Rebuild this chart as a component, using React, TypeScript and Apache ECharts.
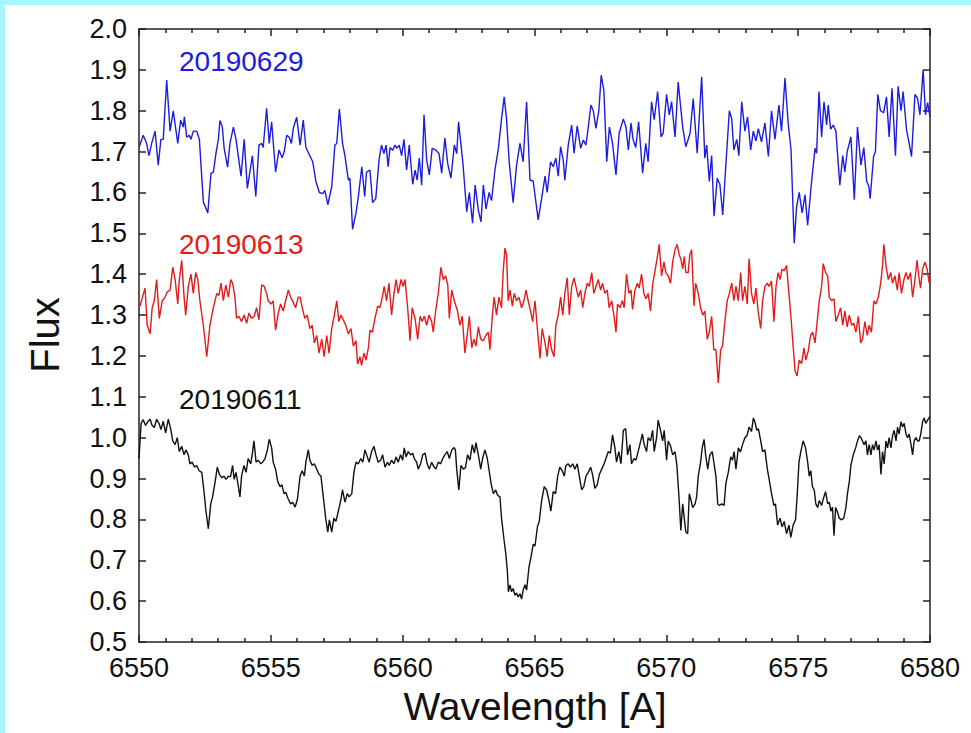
import React, { useEffect, useRef } from "react";
import * as echarts from "echarts";

// Wavelength axis ticks (Angstrom) and flux axis range
const xTicks = [6550, 6555, 6560, 6565, 6570, 6575, 6580];
const yRange = [0.5, 2.0];

const seriesNames = ["20190629", "20190613", "20190611"];
const seriesColors = ["#1c1ce0", "#e31b1b", "#111111"];

// [wavelength, flux]
const spectrum20190629: [number, number][] = [
  [6550.01, 1.712], [6550.16, 1.74], [6550.29, 1.72], [6550.38, 1.69], [6550.48, 1.72], [6550.61, 1.75],
  [6550.73, 1.667], [6550.83, 1.73], [6550.92, 1.73], [6551.05, 1.875], [6551.18, 1.75], [6551.30, 1.80],
  [6551.47, 1.72], [6551.58, 1.777], [6551.68, 1.76], [6551.72, 1.785], [6551.81, 1.735], [6551.91, 1.74],
  [6551.97, 1.73], [6552.06, 1.75], [6552.19, 1.75], [6552.29, 1.73], [6552.44, 1.577], [6552.61, 1.55],
  [6552.73, 1.647], [6552.82, 1.65], [6552.92, 1.696], [6553.01, 1.73], [6553.07, 1.776], [6553.16, 1.76],
  [6553.23, 1.708], [6553.36, 1.662], [6553.45, 1.72], [6553.58, 1.76], [6553.68, 1.73], [6553.87, 1.64],
  [6553.99, 1.73], [6554.11, 1.61], [6554.30, 1.69], [6554.43, 1.59], [6554.55, 1.716], [6554.65, 1.72],
  [6554.71, 1.71], [6554.84, 1.806], [6554.94, 1.72], [6555.03, 1.773], [6555.18, 1.65], [6555.31, 1.704],
  [6555.43, 1.685], [6555.51, 1.70], [6555.60, 1.74], [6555.70, 1.735], [6555.78, 1.72], [6555.85, 1.757],
  [6555.98, 1.784], [6556.11, 1.716], [6556.23, 1.777], [6556.33, 1.71], [6556.48, 1.69], [6556.59, 1.675],
  [6556.71, 1.627], [6556.84, 1.60], [6556.97, 1.597], [6557.05, 1.605], [6557.16, 1.57], [6557.31, 1.614],
  [6557.43, 1.716], [6557.50, 1.72], [6557.60, 1.804], [6557.72, 1.72], [6557.81, 1.69], [6557.94, 1.63],
  [6558.00, 1.635], [6558.10, 1.51], [6558.23, 1.55], [6558.32, 1.59], [6558.45, 1.663], [6558.56, 1.59],
  [6558.63, 1.65], [6558.76, 1.655], [6558.86, 1.575], [6558.98, 1.585], [6559.11, 1.683], [6559.20, 1.716],
  [6559.29, 1.695], [6559.37, 1.716], [6559.45, 1.663], [6559.52, 1.71], [6559.62, 1.703], [6559.71, 1.716],
  [6559.78, 1.708], [6559.87, 1.716], [6559.96, 1.69], [6560.05, 1.73], [6560.15, 1.655], [6560.25, 1.716],
  [6560.38, 1.62], [6560.47, 1.655], [6560.55, 1.63], [6560.63, 1.684], [6560.72, 1.618], [6560.81, 1.79],
  [6560.91, 1.68], [6561.01, 1.643], [6561.12, 1.708], [6561.25, 1.704], [6561.38, 1.695], [6561.48, 1.647],
  [6561.60, 1.733], [6561.71, 1.67], [6561.83, 1.635], [6561.96, 1.716], [6562.05, 1.695], [6562.12, 1.773],
  [6562.28, 1.675], [6562.43, 1.553], [6562.53, 1.60], [6562.65, 1.525], [6562.75, 1.618], [6562.87, 1.557],
  [6562.97, 1.528], [6563.06, 1.618], [6563.16, 1.56], [6563.28, 1.60], [6563.37, 1.58], [6563.50, 1.655],
  [6563.63, 1.708], [6563.75, 1.78], [6563.85, 1.834], [6563.94, 1.78], [6564.04, 1.675], [6564.19, 1.575],
  [6564.32, 1.667], [6564.45, 1.72], [6564.57, 1.675], [6564.70, 1.822], [6564.83, 1.63], [6564.95, 1.628],
  [6565.14, 1.533], [6565.27, 1.585], [6565.40, 1.64], [6565.48, 1.60], [6565.61, 1.675], [6565.71, 1.663],
  [6565.81, 1.684], [6565.90, 1.64], [6565.99, 1.712], [6566.09, 1.68], [6566.15, 1.63], [6566.28, 1.716],
  [6566.41, 1.765], [6566.50, 1.696], [6566.62, 1.763], [6566.75, 1.708], [6566.85, 1.728], [6566.95, 1.716],
  [6567.04, 1.76], [6567.14, 1.814], [6567.23, 1.80], [6567.33, 1.757], [6567.44, 1.80], [6567.53, 1.887],
  [6567.63, 1.85], [6567.74, 1.675], [6567.84, 1.76], [6567.96, 1.72], [6568.09, 1.643], [6568.21, 1.745],
  [6568.37, 1.78], [6568.47, 1.76], [6568.56, 1.704], [6568.66, 1.77], [6568.74, 1.73], [6568.84, 1.71],
  [6568.95, 1.773], [6569.10, 1.647], [6569.22, 1.72], [6569.31, 1.675], [6569.44, 1.822], [6569.54, 1.778],
  [6569.67, 1.847], [6569.80, 1.736], [6569.88, 1.745], [6570.01, 1.84], [6570.11, 1.79], [6570.20, 1.822],
  [6570.33, 1.736], [6570.45, 1.87], [6570.62, 1.76], [6570.74, 1.712], [6570.90, 1.745], [6571.02, 1.83],
  [6571.17, 1.696], [6571.34, 1.883], [6571.46, 1.684], [6571.53, 1.716], [6571.63, 1.627], [6571.72, 1.69],
  [6571.81, 1.542], [6571.93, 1.635], [6572.03, 1.62], [6572.14, 1.545], [6572.26, 1.67], [6572.39, 1.80],
  [6572.48, 1.78], [6572.56, 1.704], [6572.67, 1.73], [6572.75, 1.69], [6572.86, 1.822], [6572.98, 1.75],
  [6573.08, 1.785], [6573.20, 1.704], [6573.30, 1.75], [6573.40, 1.726], [6573.49, 1.756], [6573.61, 1.724],
  [6573.74, 1.77], [6573.87, 1.688], [6573.99, 1.80], [6574.12, 1.73], [6574.27, 1.814], [6574.37, 1.75],
  [6574.50, 1.88], [6574.62, 1.77], [6574.73, 1.704], [6574.85, 1.476], [6574.94, 1.565], [6575.04, 1.60],
  [6575.15, 1.55], [6575.26, 1.594], [6575.36, 1.52], [6575.51, 1.627], [6575.64, 1.708], [6575.70, 1.696],
  [6575.79, 1.847], [6575.89, 1.736], [6575.98, 1.822], [6576.08, 1.765], [6576.14, 1.814], [6576.23, 1.755],
  [6576.33, 1.765], [6576.43, 1.75], [6576.58, 1.618], [6576.69, 1.69], [6576.77, 1.65], [6576.86, 1.70],
  [6577.00, 1.736], [6577.13, 1.582], [6577.25, 1.76], [6577.38, 1.667], [6577.49, 1.71], [6577.60, 1.627],
  [6577.68, 1.615], [6577.73, 1.585], [6577.86, 1.688], [6577.93, 1.70], [6578.02, 1.84], [6578.12, 1.80],
  [6578.24, 1.795], [6578.35, 1.834], [6578.45, 1.736], [6578.56, 1.855], [6578.69, 1.69], [6578.79, 1.86],
  [6578.90, 1.80], [6578.98, 1.847], [6579.11, 1.753], [6579.21, 1.72], [6579.30, 1.688], [6579.43, 1.84],
  [6579.53, 1.83], [6579.62, 1.79], [6579.74, 1.90], [6579.83, 1.79], [6579.91, 1.82], [6580.00, 1.785],
];

const spectrum20190613: [number, number][] = [
  [6550.00, 1.33], [6550.04, 1.322], [6550.13, 1.344], [6550.23, 1.366], [6550.31, 1.275], [6550.42, 1.254],
  [6550.50, 1.318], [6550.58, 1.335], [6550.67, 1.387], [6550.77, 1.292], [6550.88, 1.335], [6550.99, 1.344],
  [6551.07, 1.357], [6551.18, 1.361], [6551.28, 1.417], [6551.37, 1.387], [6551.47, 1.327], [6551.53, 1.387],
  [6551.62, 1.434], [6551.71, 1.344], [6551.77, 1.30], [6551.87, 1.37], [6551.97, 1.40], [6552.06, 1.353],
  [6552.15, 1.404], [6552.23, 1.387], [6552.31, 1.335], [6552.44, 1.275], [6552.57, 1.198], [6552.69, 1.275],
  [6552.82, 1.318], [6552.95, 1.353], [6553.03, 1.348], [6553.11, 1.378], [6553.20, 1.335], [6553.29, 1.374],
  [6553.39, 1.344], [6553.48, 1.387], [6553.55, 1.378], [6553.64, 1.344], [6553.70, 1.292], [6553.79, 1.297],
  [6553.89, 1.284], [6553.99, 1.30], [6554.08, 1.28], [6554.17, 1.305], [6554.27, 1.292], [6554.37, 1.297],
  [6554.46, 1.318], [6554.55, 1.288], [6554.65, 1.374], [6554.75, 1.37], [6554.84, 1.353], [6554.90, 1.335],
  [6555.01, 1.327], [6555.09, 1.335], [6555.18, 1.263], [6555.28, 1.305], [6555.37, 1.327], [6555.47, 1.31],
  [6555.56, 1.335], [6555.66, 1.361], [6555.75, 1.344], [6555.85, 1.331], [6555.94, 1.318], [6556.04, 1.344],
  [6556.11, 1.344], [6556.19, 1.318], [6556.29, 1.292], [6556.38, 1.30], [6556.48, 1.267], [6556.57, 1.275],
  [6556.65, 1.232], [6556.74, 1.25], [6556.83, 1.207], [6556.93, 1.241], [6557.02, 1.198], [6557.12, 1.25],
  [6557.21, 1.207], [6557.31, 1.267], [6557.41, 1.30], [6557.50, 1.335], [6557.58, 1.284], [6557.66, 1.30],
  [6557.75, 1.288], [6557.84, 1.275], [6557.94, 1.254], [6558.04, 1.267], [6558.13, 1.224], [6558.23, 1.237],
  [6558.29, 1.18], [6558.38, 1.198], [6558.44, 1.177], [6558.53, 1.207], [6558.61, 1.19], [6558.70, 1.22],
  [6558.76, 1.263], [6558.85, 1.258], [6558.95, 1.292], [6559.05, 1.322], [6559.14, 1.318], [6559.23, 1.344],
  [6559.30, 1.37], [6559.39, 1.335], [6559.48, 1.378], [6559.58, 1.30], [6559.67, 1.353], [6559.75, 1.387],
  [6559.83, 1.353], [6559.94, 1.387], [6560.02, 1.37], [6560.09, 1.387], [6560.19, 1.318], [6560.28, 1.237],
  [6560.36, 1.318], [6560.47, 1.292], [6560.57, 1.241], [6560.66, 1.297], [6560.74, 1.284], [6560.82, 1.297],
  [6560.91, 1.275], [6561.00, 1.30], [6561.10, 1.284], [6561.16, 1.258], [6561.25, 1.31], [6561.35, 1.353],
  [6561.45, 1.417], [6561.54, 1.387], [6561.63, 1.396], [6561.71, 1.374], [6561.77, 1.292], [6561.86, 1.361],
  [6561.96, 1.335], [6562.08, 1.31], [6562.17, 1.275], [6562.26, 1.297], [6562.36, 1.207], [6562.46, 1.258],
  [6562.53, 1.297], [6562.62, 1.22], [6562.70, 1.241], [6562.78, 1.224], [6562.87, 1.271], [6562.96, 1.241],
  [6563.06, 1.237], [6563.15, 1.25], [6563.25, 1.258], [6563.31, 1.215], [6563.40, 1.297], [6563.47, 1.344],
  [6563.56, 1.30], [6563.65, 1.344], [6563.75, 1.318], [6563.81, 1.404], [6563.88, 1.464], [6563.94, 1.447],
  [6564.00, 1.335], [6564.07, 1.361], [6564.16, 1.322], [6564.23, 1.353], [6564.32, 1.335], [6564.41, 1.344],
  [6564.51, 1.318], [6564.60, 1.335], [6564.68, 1.361], [6564.76, 1.335], [6564.85, 1.31], [6564.93, 1.284],
  [6565.02, 1.335], [6565.12, 1.258], [6565.21, 1.194], [6565.29, 1.267], [6565.40, 1.232], [6565.48, 1.198],
  [6565.56, 1.25], [6565.65, 1.215], [6565.74, 1.198], [6565.81, 1.275], [6565.90, 1.30], [6565.99, 1.344],
  [6566.07, 1.30], [6566.15, 1.353], [6566.24, 1.391], [6566.32, 1.30], [6566.41, 1.37], [6566.50, 1.391],
  [6566.57, 1.37], [6566.66, 1.344], [6566.75, 1.361], [6566.83, 1.318], [6566.91, 1.353], [6567.00, 1.378],
  [6567.08, 1.37], [6567.17, 1.404], [6567.25, 1.353], [6567.33, 1.37], [6567.42, 1.387], [6567.51, 1.361],
  [6567.58, 1.378], [6567.67, 1.353], [6567.76, 1.361], [6567.83, 1.318], [6567.93, 1.335], [6568.01, 1.30],
  [6568.09, 1.258], [6568.15, 1.327], [6568.24, 1.318], [6568.33, 1.335], [6568.40, 1.318], [6568.49, 1.40],
  [6568.58, 1.353], [6568.66, 1.361], [6568.72, 1.314], [6568.81, 1.361], [6568.90, 1.378], [6568.97, 1.366],
  [6569.06, 1.40], [6569.15, 1.353], [6569.23, 1.34], [6569.31, 1.353], [6569.40, 1.31], [6569.48, 1.374],
  [6569.57, 1.408], [6569.65, 1.438], [6569.73, 1.473], [6569.82, 1.396], [6569.91, 1.43], [6569.98, 1.404],
  [6570.07, 1.396], [6570.16, 1.378], [6570.24, 1.43], [6570.33, 1.46], [6570.41, 1.473], [6570.49, 1.447],
  [6570.55, 1.438], [6570.62, 1.413], [6570.68, 1.443], [6570.74, 1.404], [6570.83, 1.404], [6570.89, 1.447],
  [6570.96, 1.46], [6571.05, 1.322], [6571.11, 1.378], [6571.21, 1.353], [6571.30, 1.318], [6571.38, 1.30],
  [6571.46, 1.31], [6571.55, 1.241], [6571.63, 1.258], [6571.72, 1.297], [6571.80, 1.215], [6571.88, 1.215],
  [6571.97, 1.134], [6572.06, 1.215], [6572.13, 1.224], [6572.22, 1.284], [6572.31, 1.335], [6572.39, 1.353],
  [6572.48, 1.378], [6572.56, 1.335], [6572.64, 1.37], [6572.73, 1.335], [6572.82, 1.404], [6572.89, 1.335],
  [6572.98, 1.37], [6573.07, 1.327], [6573.14, 1.438], [6573.23, 1.353], [6573.32, 1.327], [6573.40, 1.366],
  [6573.48, 1.31], [6573.58, 1.267], [6573.65, 1.335], [6573.74, 1.37], [6573.83, 1.378], [6573.90, 1.37],
  [6573.99, 1.383], [6574.08, 1.284], [6574.16, 1.37], [6574.24, 1.404], [6574.31, 1.387], [6574.39, 1.413],
  [6574.47, 1.408], [6574.56, 1.421], [6574.65, 1.353], [6574.72, 1.30], [6574.81, 1.224], [6574.88, 1.164],
  [6574.96, 1.151], [6575.04, 1.19], [6575.13, 1.181], [6575.22, 1.22], [6575.29, 1.19], [6575.38, 1.211],
  [6575.47, 1.25], [6575.55, 1.258], [6575.64, 1.232], [6575.72, 1.284], [6575.80, 1.335], [6575.89, 1.37],
  [6575.95, 1.426], [6576.04, 1.404], [6576.12, 1.396], [6576.18, 1.344], [6576.27, 1.335], [6576.36, 1.34],
  [6576.43, 1.284], [6576.52, 1.30], [6576.61, 1.318], [6576.69, 1.275], [6576.77, 1.31], [6576.86, 1.271],
  [6576.94, 1.30], [6577.03, 1.275], [6577.11, 1.28], [6577.19, 1.258], [6577.28, 1.297], [6577.37, 1.232],
  [6577.44, 1.241], [6577.53, 1.284], [6577.62, 1.25], [6577.69, 1.275], [6577.78, 1.258], [6577.87, 1.335],
  [6577.95, 1.327], [6578.04, 1.344], [6578.13, 1.378], [6578.20, 1.421], [6578.25, 1.473], [6578.33, 1.421],
  [6578.42, 1.387], [6578.51, 1.404], [6578.58, 1.378], [6578.67, 1.396], [6578.76, 1.361], [6578.83, 1.404],
  [6578.92, 1.353], [6579.01, 1.387], [6579.09, 1.404], [6579.17, 1.387], [6579.26, 1.404], [6579.34, 1.344],
  [6579.43, 1.387], [6579.51, 1.434], [6579.59, 1.387], [6579.64, 1.366], [6579.72, 1.413], [6579.81, 1.43],
  [6579.89, 1.413], [6579.97, 1.378], [6580.00, 1.39],
];

const spectrum20190611: [number, number][] = [
  [6550.00, 0.949], [6550.08, 1.035], [6550.16, 1.044], [6550.25, 1.03], [6550.33, 1.039], [6550.42, 1.045],
  [6550.50, 1.03], [6550.58, 1.025], [6550.67, 1.045], [6550.76, 1.035], [6550.83, 1.02], [6550.92, 1.04],
  [6551.01, 1.012], [6551.11, 1.045], [6551.20, 1.022], [6551.28, 0.992], [6551.37, 0.983], [6551.45, 1.0],
  [6551.53, 0.966], [6551.62, 0.979], [6551.71, 0.958], [6551.78, 0.97], [6551.87, 0.958], [6551.93, 0.936],
  [6552.02, 0.94], [6552.10, 0.928], [6552.19, 0.932], [6552.28, 0.919], [6552.38, 0.915], [6552.46, 0.872],
  [6552.54, 0.82], [6552.63, 0.777], [6552.72, 0.838], [6552.79, 0.855], [6552.88, 0.889], [6552.97, 0.928],
  [6553.05, 0.91], [6553.14, 0.902], [6553.22, 0.906], [6553.30, 0.898], [6553.39, 0.906], [6553.47, 0.904],
  [6553.55, 0.932], [6553.61, 0.898], [6553.68, 0.915], [6553.77, 0.88], [6553.83, 0.855], [6553.89, 0.906],
  [6553.98, 0.932], [6554.06, 0.915], [6554.14, 0.949], [6554.24, 0.936], [6554.31, 0.966], [6554.36, 0.992],
  [6554.44, 0.94], [6554.52, 0.945], [6554.62, 0.936], [6554.69, 0.94], [6554.78, 0.949], [6554.87, 0.97],
  [6554.94, 0.996], [6555.03, 0.975], [6555.09, 0.94], [6555.18, 0.923], [6555.26, 0.893], [6555.35, 0.88],
  [6555.42, 0.885], [6555.50, 0.863], [6555.57, 0.866], [6555.66, 0.85], [6555.75, 0.838], [6555.83, 0.842],
  [6555.92, 0.83], [6556.01, 0.85], [6556.11, 0.906], [6556.19, 0.919], [6556.27, 0.906], [6556.33, 0.94],
  [6556.42, 0.97], [6556.48, 0.945], [6556.57, 0.932], [6556.65, 0.936], [6556.74, 0.923], [6556.83, 0.91],
  [6556.90, 0.906], [6556.99, 0.855], [6557.08, 0.803], [6557.16, 0.769], [6557.22, 0.799], [6557.31, 0.769],
  [6557.39, 0.803], [6557.47, 0.795], [6557.56, 0.82], [6557.65, 0.846], [6557.72, 0.872], [6557.81, 0.842],
  [6557.90, 0.863], [6557.97, 0.855], [6558.07, 0.863], [6558.15, 0.915], [6558.23, 0.94], [6558.32, 0.936],
  [6558.41, 0.949], [6558.49, 0.94], [6558.57, 0.97], [6558.66, 0.953], [6558.73, 0.94], [6558.82, 0.966],
  [6558.91, 0.979], [6558.99, 0.958], [6559.07, 0.94], [6559.17, 0.945], [6559.24, 0.958], [6559.33, 0.928],
  [6559.42, 0.94], [6559.49, 0.932], [6559.58, 0.945], [6559.67, 0.936], [6559.75, 0.953], [6559.83, 0.94],
  [6559.92, 0.958], [6560.00, 0.945], [6560.06, 0.975], [6560.13, 0.953], [6560.21, 0.966], [6560.30, 0.958],
  [6560.38, 0.962], [6560.44, 0.949], [6560.53, 0.94], [6560.59, 0.923], [6560.68, 0.936], [6560.76, 0.958],
  [6560.85, 0.962], [6560.93, 0.936], [6561.01, 0.923], [6561.10, 0.94], [6561.19, 0.928], [6561.26, 0.923],
  [6561.35, 0.94], [6561.44, 0.936], [6561.52, 0.949], [6561.60, 0.958], [6561.69, 0.966], [6561.77, 0.949],
  [6561.86, 0.97], [6561.95, 0.976], [6562.00, 0.97], [6562.05, 0.923], [6562.13, 0.872], [6562.21, 0.932],
  [6562.30, 0.923], [6562.38, 0.926], [6562.46, 0.958], [6562.55, 0.945], [6562.64, 0.983], [6562.72, 0.962],
  [6562.78, 0.988], [6562.87, 0.958], [6562.96, 0.923], [6563.03, 0.949], [6563.12, 0.97], [6563.21, 0.949],
  [6563.28, 0.919], [6563.35, 0.889], [6563.44, 0.863], [6563.53, 0.872], [6563.60, 0.859], [6563.69, 0.855],
  [6563.75, 0.803], [6563.84, 0.752], [6563.91, 0.717], [6563.97, 0.674], [6564.01, 0.623], [6564.07, 0.64],
  [6564.13, 0.623], [6564.19, 0.631], [6564.26, 0.614], [6564.32, 0.62], [6564.38, 0.61], [6564.45, 0.618],
  [6564.51, 0.605], [6564.57, 0.627], [6564.64, 0.64], [6564.70, 0.627], [6564.79, 0.683], [6564.87, 0.709],
  [6564.95, 0.739], [6565.02, 0.735], [6565.11, 0.782], [6565.18, 0.795], [6565.27, 0.846], [6565.37, 0.88],
  [6565.46, 0.872], [6565.55, 0.846], [6565.62, 0.82], [6565.71, 0.868], [6565.80, 0.863], [6565.88, 0.906],
  [6565.96, 0.928], [6566.05, 0.919], [6566.13, 0.906], [6566.19, 0.932], [6566.28, 0.936], [6566.36, 0.928],
  [6566.45, 0.936], [6566.53, 0.923], [6566.62, 0.936], [6566.70, 0.906], [6566.79, 0.872], [6566.87, 0.88],
  [6566.95, 0.906], [6567.04, 0.915], [6567.13, 0.928], [6567.20, 0.91], [6567.29, 0.876], [6567.38, 0.885],
  [6567.46, 0.91], [6567.55, 0.923], [6567.64, 0.936], [6567.71, 0.949], [6567.80, 0.966], [6567.88, 0.962],
  [6567.96, 1.007], [6568.05, 0.975], [6568.11, 0.94], [6568.20, 0.966], [6568.28, 0.936], [6568.37, 1.018],
  [6568.46, 1.022], [6568.53, 0.958], [6568.62, 0.983], [6568.68, 0.936], [6568.77, 0.949], [6568.85, 0.945],
  [6568.93, 0.966], [6569.03, 0.992], [6569.09, 1.009], [6569.16, 0.983], [6569.25, 0.966], [6569.31, 1.0],
  [6569.40, 0.992], [6569.48, 1.018], [6569.54, 0.966], [6569.63, 1.0], [6569.69, 1.043], [6569.78, 1.018],
  [6569.86, 0.992], [6569.92, 1.018], [6570.01, 0.945], [6570.07, 0.992], [6570.16, 0.98], [6570.24, 0.958],
  [6570.33, 0.966], [6570.40, 0.932], [6570.48, 0.855], [6570.55, 0.773], [6570.62, 0.838], [6570.68, 0.803],
  [6570.74, 0.769], [6570.81, 0.765], [6570.87, 0.863], [6570.94, 0.846], [6571.00, 0.829], [6571.09, 0.838],
  [6571.15, 0.855], [6571.21, 0.906], [6571.30, 0.94], [6571.36, 0.975], [6571.43, 0.996], [6571.49, 0.958],
  [6571.57, 0.923], [6571.65, 0.958], [6571.74, 0.966], [6571.82, 0.932], [6571.88, 0.906], [6571.95, 0.838],
  [6572.01, 0.834], [6572.10, 0.838], [6572.19, 0.834], [6572.26, 0.889], [6572.35, 0.915], [6572.44, 0.953],
  [6572.51, 0.945], [6572.57, 0.966], [6572.64, 0.923], [6572.73, 0.975], [6572.81, 0.965], [6572.89, 0.983],
  [6572.98, 1.0], [6573.06, 1.005], [6573.14, 1.026], [6573.23, 1.015], [6573.30, 1.048], [6573.36, 1.039],
  [6573.43, 1.018], [6573.49, 1.022], [6573.58, 0.992], [6573.65, 0.966], [6573.74, 0.97], [6573.83, 0.923],
  [6573.90, 0.898], [6573.99, 0.863], [6574.08, 0.834], [6574.14, 0.838], [6574.22, 0.786], [6574.31, 0.803],
  [6574.39, 0.782], [6574.47, 0.795], [6574.56, 0.765], [6574.65, 0.786], [6574.72, 0.756], [6574.81, 0.786],
  [6574.90, 0.799], [6574.96, 0.855], [6575.03, 0.94], [6575.10, 0.966], [6575.19, 0.992], [6575.28, 0.975],
  [6575.36, 0.94], [6575.42, 0.906], [6575.48, 0.919], [6575.54, 0.88], [6575.61, 0.872], [6575.67, 0.838],
  [6575.74, 0.829], [6575.80, 0.846], [6575.89, 0.834], [6575.95, 0.85], [6576.04, 0.868], [6576.12, 0.838],
  [6576.18, 0.842], [6576.24, 0.82], [6576.30, 0.83], [6576.36, 0.76], [6576.42, 0.829], [6576.48, 0.82],
  [6576.56, 0.803], [6576.65, 0.799], [6576.73, 0.803], [6576.81, 0.829], [6576.87, 0.863], [6576.94, 0.893],
  [6577.00, 0.932], [6577.09, 0.958], [6577.18, 0.975], [6577.25, 0.992], [6577.32, 1.005], [6577.38, 1.0],
  [6577.44, 0.992], [6577.50, 0.983], [6577.57, 0.992], [6577.63, 0.958], [6577.69, 0.983], [6577.76, 0.958],
  [6577.82, 0.983], [6577.88, 0.97], [6577.95, 0.992], [6578.01, 0.97], [6578.07, 0.983], [6578.14, 0.91],
  [6578.20, 0.966], [6578.26, 0.936], [6578.33, 0.992], [6578.39, 0.975], [6578.45, 1.0], [6578.52, 0.975],
  [6578.58, 1.005], [6578.64, 1.018], [6578.71, 0.992], [6578.77, 1.026], [6578.83, 1.009], [6578.90, 1.039],
  [6578.96, 1.026], [6579.02, 1.035], [6579.09, 1.009], [6579.15, 1.0], [6579.21, 1.009], [6579.28, 0.983],
  [6579.34, 0.958], [6579.40, 0.992], [6579.47, 1.0], [6579.53, 0.992], [6579.59, 0.992], [6579.65, 1.009],
  [6579.72, 1.039], [6579.78, 1.048], [6579.84, 1.035], [6579.91, 1.043], [6580.00, 1.052],
];

const spectra = [spectrum20190629, spectrum20190613, spectrum20190611];

export default function App() {
  const ref = useRef<HTMLDivElement>(null);

  useEffect(() => {
    if (!ref.current) return;
    const chart = echarts.init(ref.current, null, { renderer: "svg" });
    const font = '"Liberation Sans", Arial, Helvetica, sans-serif';
    const axisColor = "#222";
    const lineStyle = { color: axisColor, width: 1.5 };

    const xBase = {
      type: "value",
      min: xTicks[0],
      max: xTicks[xTicks.length - 1],
      interval: xTicks[1] - xTicks[0],
      axisLine: { show: true, onZero: false, lineStyle },
      axisTick: { show: true, inside: true, length: 7, lineStyle },
      minorTick: { show: true, splitNumber: 5, length: 4, lineStyle },
      splitLine: { show: false },
    };
    const yBase = {
      type: "value",
      min: yRange[0],
      max: yRange[1],
      interval: 0.1,
      axisLine: { show: true, onZero: false, lineStyle },
      axisTick: { show: true, inside: true, length: 7, lineStyle },
      splitLine: { show: false },
    };

    chart.setOption({
      animation: false,
      backgroundColor: "#ffffff",
      grid: { left: 139, right: 41, top: 29, bottom: 91, containLabel: false },
      xAxis: [
        {
          ...xBase,
          position: "bottom",
          axisLabel: {
            show: true,
            fontSize: 27,
            lineHeight: 20,
            color: "#111",
            fontFamily: font,
            margin: 16,
            formatter: (v: number) => String(Math.round(v)),
          },
        },
        { ...xBase, position: "top", axisLabel: { show: false } },
      ],
      yAxis: [
        {
          ...yBase,
          position: "left",
          axisLabel: {
            show: true,
            fontSize: 27,
            lineHeight: 20,
            color: "#111",
            fontFamily: font,
            margin: 12,
            formatter: (v: number) => v.toFixed(1),
          },
        },
        { ...yBase, position: "right", axisLabel: { show: false } },
      ],
      series: spectra.map((data, i) => ({
        name: seriesNames[i],
        type: "line",
        xAxisIndex: 0,
        yAxisIndex: 0,
        data,
        showSymbol: false,
        symbol: "none",
        lineStyle: { color: seriesColors[i], width: 1.4 },
        clip: true,
      })),
      graphic: [
        { type: "rect", shape: { x: 0, y: 0, width: 971, height: 5 }, style: { fill: "#a8f5fd" }, silent: true },
        { type: "rect", shape: { x: 0, y: 0, width: 5, height: 733 }, style: { fill: "#a8f5fd" }, silent: true },
        {
          type: "text",
          x: 179,
          y: 61,
          style: { text: seriesNames[0], fill: seriesColors[0], font: `28px ${font}`, verticalAlign: "middle", align: "left" },
        },
        {
          type: "text",
          x: 179,
          y: 244,
          style: { text: seriesNames[1], fill: seriesColors[1], font: `28px ${font}`, verticalAlign: "middle", align: "left" },
        },
        {
          type: "text",
          x: 179,
          y: 399,
          style: { text: seriesNames[2], fill: seriesColors[2], font: `28px ${font}`, verticalAlign: "middle", align: "left" },
        },
        {
          type: "text",
          x: 45,
          y: 335,
          rotation: Math.PI / 2,
          style: { text: "Flux", fill: "#111", font: `40px ${font}`, verticalAlign: "middle", align: "center" },
        },
        {
          type: "text",
          x: 535,
          y: 706,
          style: { text: "Wavelength [A]", fill: "#111", font: `39px ${font}`, verticalAlign: "middle", align: "center" },
        },
      ],
    });
    return () => chart.dispose();
  }, []);

  return (
    <div style={{ position: "fixed", left: 0, top: 0, width: 971, height: 733, background: "#fff" }}>
      <div ref={ref} style={{ width: 971, height: 733 }} />
    </div>
  );
}
